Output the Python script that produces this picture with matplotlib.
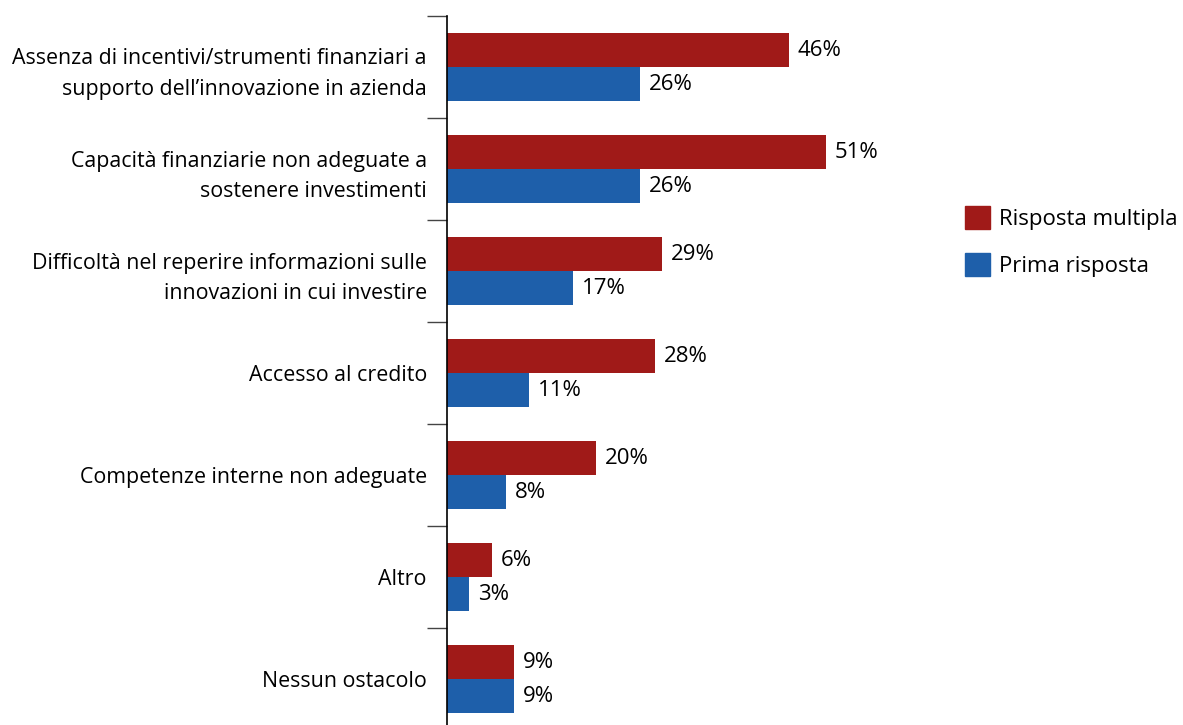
import matplotlib.pyplot as plt
from matplotlib.patches import Patch

plt.rcParams["font.family"] = ["Open Sans", "DejaVu Sans"]

categorie = [
    "Assenza di incentivi/strumenti finanziari a\nsupporto dell\u2019innovazione in azienda",
    "Capacità finanziarie non adeguate a\nsostenere investimenti",
    "Difficoltà nel reperire informazioni sulle\ninnovazioni in cui investire",
    "Accesso al credito",
    "Competenze interne non adeguate",
    "Altro",
    "Nessun ostacolo",
]
risposta_multipla = [46, 51, 29, 28, 20, 6, 9]
prima_risposta = [26, 26, 17, 11, 8, 3, 9]

ROSSO = "#A01A18"
BLU = "#1E5FAA"

fig = plt.figure(figsize=(11.83, 7.25), dpi=100)
ax = fig.add_axes([447 / 1183, -5 / 725, 520 / 1183, 714 / 725])

pos = list(range(len(categorie)))
h = 1 / 3
ax.barh([p - h / 2 for p in pos], risposta_multipla, height=h, color=ROSSO)
ax.barh([p + h / 2 for p in pos], prima_risposta, height=h, color=BLU)

# etichette con il valore a destra di ogni barra
for p, v in zip(pos, risposta_multipla):
    ax.text(v + 1.2, p - h / 2, f"{v}%", va="center", ha="left", fontsize=16)
for p, v in zip(pos, prima_risposta):
    ax.text(v + 1.2, p + h / 2, f"{v}%", va="center", ha="left", fontsize=16)

ax.set_xlim(0, 70)
ax.set_ylim(len(categorie) - 0.5, -0.5)
ax.set_xticks([])
ax.set_yticks(pos)
ax.set_yticklabels(categorie, fontsize=15.4, linespacing=1.6)
ax.tick_params(axis="y", which="major", length=0, pad=14.5)
ax.set_yticks([p - 0.5 for p in range(len(categorie) + 1)], minor=True)
ax.tick_params(axis="y", which="minor", length=14.5, width=1, color="#444444")
for lato in ("top", "right", "bottom"):
    ax.spines[lato].set_visible(False)
ax.spines["left"].set_linewidth(1.2)

maniglie = [Patch(color=ROSSO, label="Risposta multipla"), Patch(color=BLU, label="Prima risposta")]
fig.legend(handles=maniglie, loc="upper left", bbox_to_anchor=(956 / 1183, 1 - 197 / 725),
           frameon=False, fontsize=16, handlelength=1.12, handleheight=1.2,
           handletextpad=0.4, labelspacing=1.05, borderaxespad=0)

fig.savefig("out.png", dpi=100)
